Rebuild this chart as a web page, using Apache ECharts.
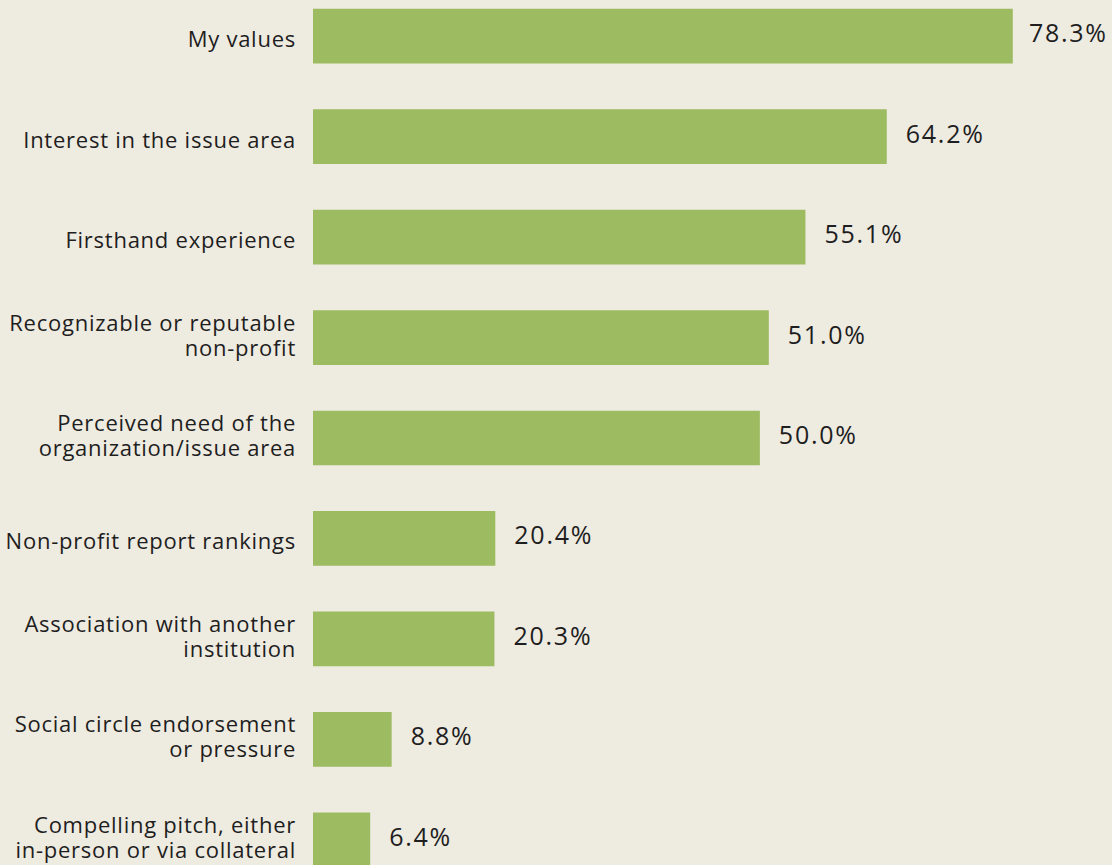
<!DOCTYPE html>
<html>
<head>
<meta charset="utf-8">
<script src="https://cdn.jsdelivr.net/npm/echarts@6/dist/echarts.min.js"></script>
<style>
  html, body { margin: 0; padding: 0; background: #eeebe1; overflow: hidden; width: 1112px; height: 865px; position: relative; }
  #chart { position: absolute; left: 0; top: -14px; width: 1112px; height: 904px; }
  #chart svg text { letter-spacing: 0.75px; }
  #chart svg text[style*="25px"] { letter-spacing: 1.75px; }
</style>
</head>
<body>
<div id="chart"></div>
<script>
const categories = [
  'My values',
  'Interest in the issue area',
  'Firsthand experience',
  'Recognizable or reputable\nnon-profit',
  'Perceived need of the\norganization/issue area',
  'Non-profit report rankings',
  'Association with another\ninstitution',
  'Social circle endorsement\nor pressure',
  'Compelling pitch, either\nin-person or via collateral'
];
const values = [78.3, 64.2, 55.1, 51.0, 50.0, 20.4, 20.3, 8.8, 6.4];

const CHART_W = 1112;
const LABEL_FONT = '25px "Open Sans"';
const LABEL_SPACING = 1.75;
const LABEL_DIST = 19;
const RIGHT_LIMIT = CHART_W - 6;
const fmt = v => v.toFixed(1) + '%';

const chart = echarts.init(document.getElementById('chart'), null, { renderer: 'svg' });

function build(dataItems) {
  return {
    backgroundColor: '#eeebe1',
    animation: false,
    grid: { left: 313, right: 0, top: 0, bottom: 0, containLabel: false },
    xAxis: { type: 'value', min: 0, max: 89.4, show: false },
    yAxis: {
      type: 'category',
      data: categories,
      inverse: true,
      axisLine: { show: false },
      axisTick: { show: false },
      splitLine: { show: false },
      axisLabel: {
        interval: 0,
        margin: 17,
        align: 'right',
        formatter: function (v) {
          if (v.indexOf('\n') >= 0) {
            return v.split('\n').map(l => '{t|' + l + '}').join('\n') + '\n{s| }';
          }
          return '{p| }\n{t|' + v + '}';
        },
        rich: {
          t: { color: '#1e1e1e', fontFamily: 'Open Sans', fontSize: 22, lineHeight: 25, align: 'right' },
          s: { fontSize: 1, lineHeight: 7 },
          p: { fontSize: 1, lineHeight: 4 }
        }
      }
    },
    series: [{
      type: 'bar',
      data: dataItems,
      barWidth: 54.7,
      itemStyle: { color: '#9dbb61' },
      label: {
        show: true,
        position: 'right',
        distance: LABEL_DIST,
        offset: [0, -4],
        color: '#1e1e1e',
        fontFamily: 'Open Sans',
        fontSize: 25,
        formatter: p => fmt(p.value)
      }
    }]
  };
}

chart.setOption(build(values));

// keep value labels inside the chart's right edge
const ctx = document.createElement('canvas').getContext('2d');
ctx.font = LABEL_FONT;
const items = values.map(v => {
  const txt = fmt(v);
  const w = ctx.measureText(txt).width + LABEL_SPACING * (txt.length - 1);
  const end = chart.convertToPixel({ xAxisIndex: 0 }, v) + LABEL_DIST + w;
  const dx = end > RIGHT_LIMIT ? RIGHT_LIMIT - end : 0;
  return dx ? { value: v, label: { offset: [dx, -4] } } : v;
});
chart.setOption(build(items));
</script>
</body>
</html>
